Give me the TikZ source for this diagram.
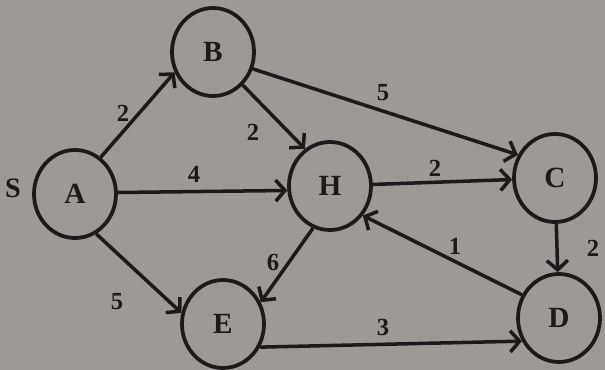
\documentclass[tikz,border=0pt]{standalone}
\usepackage{fontspec}
\setmainfont{Liberation Serif}
\usetikzlibrary{arrows.meta,shapes.geometric}
\definecolor{paper}{RGB}{155,154,150}
\definecolor{ink}{RGB}{28,26,26}
\begin{document}
\begin{tikzpicture}[x=0.03cm,y=-0.03cm,
  vertex/.style={ellipse,draw=ink,line width=3.2pt,fill=paper,minimum width=2.46cm,minimum height=2.64cm,inner sep=0pt,text=ink,font=\fontsize{25}{25}\selectfont\bfseries},
  edge/.style={draw=ink,line width=3pt,-{Straight Barb[length=8pt,width=18pt,line width=3pt]}},
  wlbl/.style={text=ink,font=\fontsize{21}{21}\selectfont\bfseries,inner sep=0pt}]
\fill[paper] (0,0) rectangle (605,370);
\useasboundingbox (0,0) rectangle (605,370);
\node[vertex] (A) at (75,194) {A};
\node[vertex] (B) at (213,52) {B};
\node[vertex] (H) at (330,186) {H};
\node[vertex] (C) at (555,178) {C};
\node[vertex] (D) at (559,318) {D};
\node[vertex] (E) at (223,324) {E};
\node[wlbl,font=\fontsize{24}{24}\selectfont\bfseries] (S) at (13,188) {S};
\draw[edge] (A.55) -- (B.208);
\draw[edge] (A.2) -- (H.186);
\draw[edge] (A.-62) -- (E.165);
\draw[edge] (B.-48) -- (H.124);
\draw[edge] (B.-23) -- (C.148);
\draw[edge] (H) -- (C);
\draw[edge] (H.-112) -- (E.30);
\draw[edge] (C) -- (D);
\draw[edge] (D.148) -- (H.-42);
\draw[edge] (E.-32) -- (D.-148);
\node[wlbl] (wAB) at (123,113) {2};
\node[wlbl] (wBH) at (253,132) {2};
\node[wlbl] (wAH) at (194,174) {4};
\node[wlbl] (wBC) at (383,93) {5};
\node[wlbl] (wHC) at (435,168) {2};
\node[wlbl] (wDH) at (455,246) {1};
\node[wlbl] (wAE) at (117,302) {5};
\node[wlbl] (wHE) at (273,262) {6};
\node[wlbl] (wCD) at (593,248) {2};
\node[wlbl] (wED) at (383,327) {3};
\end{tikzpicture}
\end{document}
